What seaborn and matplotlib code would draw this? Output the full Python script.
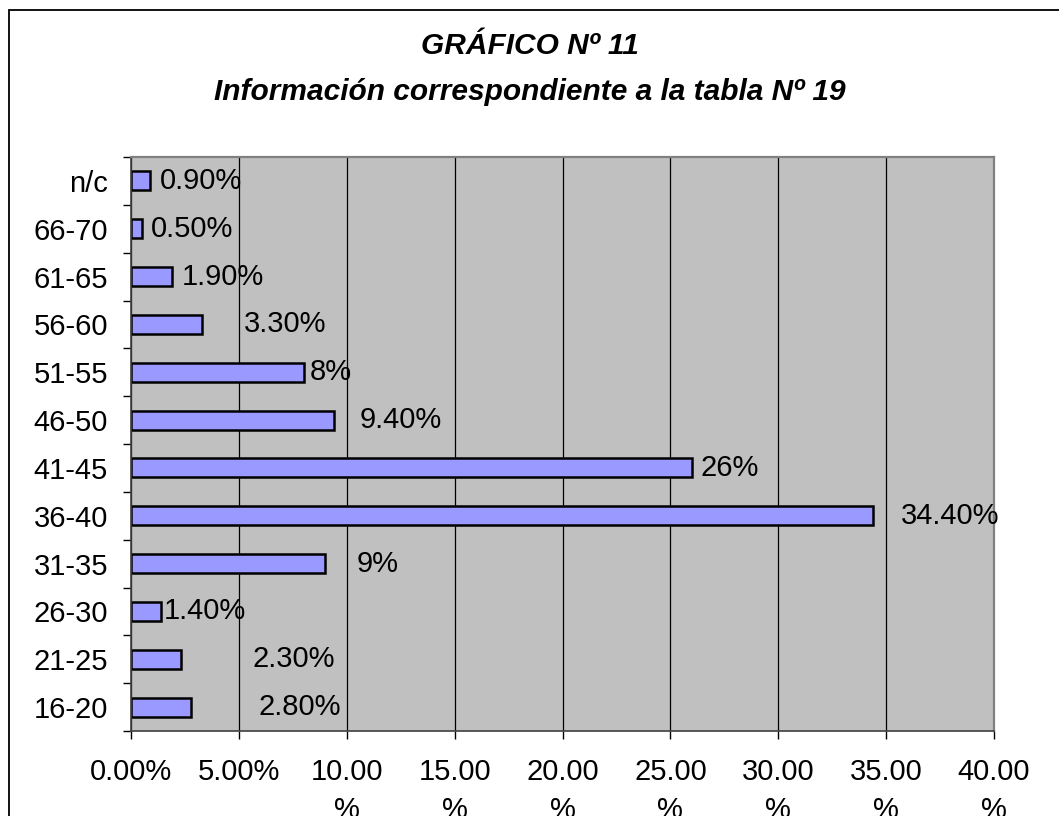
import numpy as np
import pandas as pd
import matplotlib
matplotlib.use("Agg")
import matplotlib.pyplot as plt
import matplotlib.patches as mpatches
from matplotlib.ticker import FixedLocator
import seaborn as sns

# ========== DATA ==========
age_groups = ["16-20", "21-25", "26-30", "31-35", "36-40", "41-45",
              "46-50", "51-55", "56-60", "61-65", "66-70", "n/c"]
percent = [2.8, 2.3, 1.4, 9.0, 34.4, 26.0, 9.4, 8.0, 3.3, 1.9, 0.5, 0.9]
bar_labels = ["2.80%", "2.30%", "1.40%", "9%", "34.40%", "26%",
              "9.40%", "8%", "3.30%", "1.90%", "0.50%", "0.90%"]
x_ticks = [0, 5, 10, 15, 20, 25, 30, 35, 40]
x_ticklabels = ["0.00%", "5.00%", "10.00\n%", "15.00\n%", "20.00\n%",
                "25.00\n%", "30.00\n%", "35.00\n%", "40.00\n%"]

# label offsets (pixels) to mimic the original placement
label_dx = [67, 72, 3, 31, 28, 9, 26, 6, 42, 10, 9, 9]

df = pd.DataFrame({"grupo": age_groups, "pct": percent, "label": bar_labels,
                   "dx": label_dx})

# ========== STYLE ==========
sns.set_style("ticks")
plt.rcParams["font.family"] = ["Liberation Sans", "DejaVu Sans"]
plt.rcParams["text.color"] = "black"
plt.rcParams["xtick.color"] = "black"
plt.rcParams["ytick.color"] = "black"
plt.rcParams["axes.labelcolor"] = "black"

fig = plt.figure(figsize=(10.59, 8.16), dpi=100)
ax = fig.add_axes([131 / 1059, 1 - 731 / 816, (994 - 131) / 1059, (731 - 157) / 816])
ax.set_facecolor("#C0C0C0")

order = age_groups[::-1]  # n/c on top
sns.barplot(data=df, x="pct", y="grupo", order=order, orient="h",
            color="#9999FF", saturation=1, width=0.4,
            edgecolor="black", linewidth=1.8, ax=ax)

# data labels
for _, row in df.iterrows():
    ypos = order.index(row["grupo"])
    ax.annotate(row["label"], xy=(row["pct"], ypos), xytext=(row["dx"], 0),
                textcoords="offset pixels", ha="left", va="center",
                fontsize=21, color="black", annotation_clip=False)

# axes / ticks
ax.set_xlim(0, 40)
ax.set_ylim(len(order) - 0.5, -0.5)
ax.set_xticks(x_ticks)
ax.set_xticklabels(x_ticklabels, fontsize=21, linespacing=1.45)
ax.yaxis.set_minor_locator(FixedLocator(np.arange(-0.5, len(order), 1)))
ax.tick_params(axis="y", which="major", length=0, pad=16.5, labelsize=21)
ax.tick_params(axis="y", which="minor", length=6, width=1, color="black")
ax.tick_params(axis="x", which="major", length=6, width=1, color="black", pad=13.5)
ax.set_xlabel("")
ax.set_ylabel("")

ax.set_axisbelow(True)
ax.grid(axis="x", color="black", linewidth=0.9)
ax.grid(axis="y", visible=False)

for side in ["top", "right"]:
    ax.spines[side].set_visible(True)
    ax.spines[side].set_color("#808080")
    ax.spines[side].set_linewidth(1.6)
ax.spines["left"].set_color("#404040")
ax.spines["left"].set_linewidth(1.2)
ax.spines["bottom"].set_color("#404040")
ax.spines["bottom"].set_linewidth(1.2)

# title
fig.text(530 / 1059, 1 - 69 / 816,
         "GRÁFICO Nº 11\nInformación correspondiente a la tabla Nº 19",
         ha="center", va="center", fontsize=21.5, fontweight="bold",
         fontstyle="italic", linespacing=1.85)

# chart border (cut by the image edge on right and bottom)
border = mpatches.Rectangle((9 / 1059, -0.2), 1.2, 1 - 10 / 816 + 0.2,
                            transform=fig.transFigure, fill=False,
                            edgecolor="black", linewidth=1.3, clip_on=False)
fig.patches.append(border)

plt.savefig("out.png", dpi=100)
